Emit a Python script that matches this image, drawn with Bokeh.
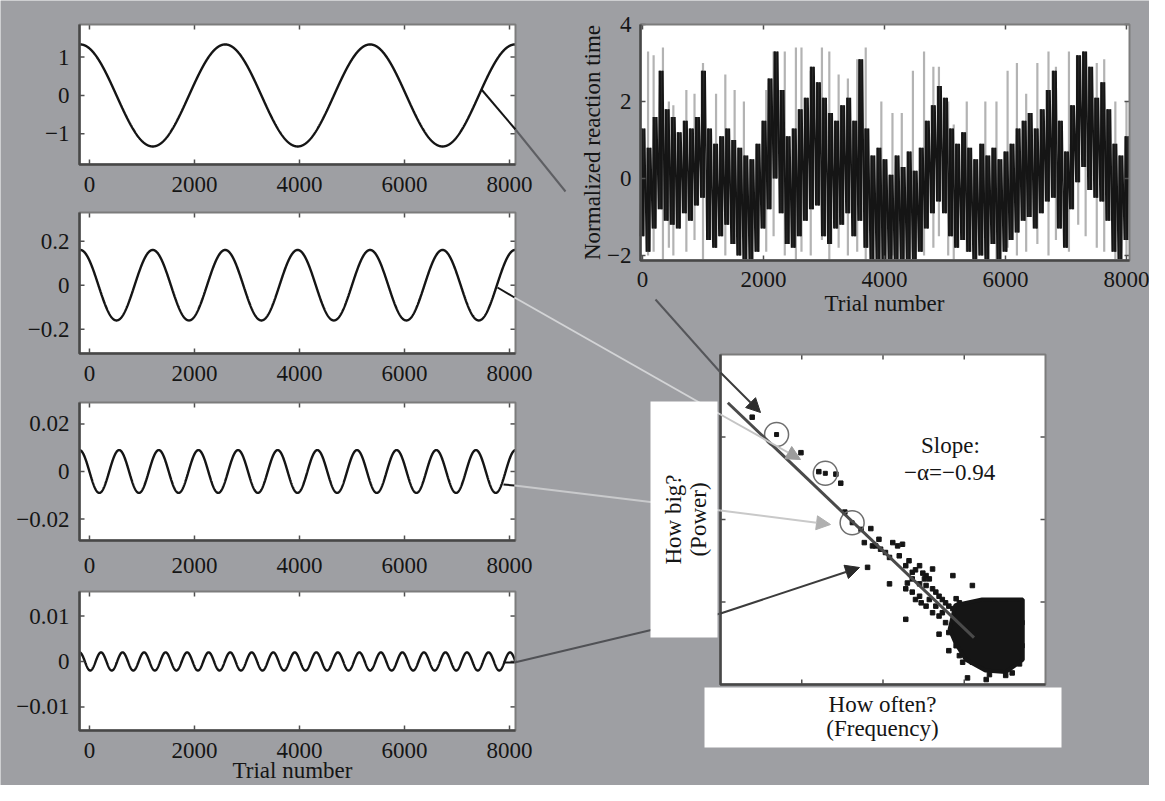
import numpy as np
from bokeh.plotting import figure
from bokeh.models import Range1d, Arrow, NormalHead
from bokeh.core.properties import value
from bokeh.embed import file_html
from bokeh.resources import INLINE

# ------------------------------------------------------------------ data
trial_ticks = [0, 2000, 4000, 6000, 8000]
trial_tick_labels = ["0", "2000", "4000", "6000", "8000"]

# the four sinusoidal components (left column)
comp_amplitude = [1.33, 0.16, 0.009, 0.002]
comp_period = [2760, 1380, 755, 410]          # trials per cycle
comp_crest_at = [-175, -175, -190, -190]      # trial of one crest
comp_ylim = [(-1.8, 1.85), (-0.31, 0.33), (-0.029, 0.029), (-0.0152, 0.0154)]
comp_yticks = [[-1, 0, 1], [-0.2, 0, 0.2], [-0.02, 0, 0.02], [-0.01, 0, 0.01]]
comp_ytick_labels = [["\u22121", "0", "1"], ["\u22120.2", "0", "0.2"],
                     ["\u22120.02", "0", "0.02"], ["\u22120.01", "0", "0.01"]]
comp_trial_lim = (-190, 8114)

# normalized reaction time: dense core per 100-trial bin + light spikes
rt_trial = list(range(0, 8001, 100))
rt_hi = [1.3, 0.8, 1.6, 2.8, 1.8, 1.6, 1.2, 1.5, 1.3, 1.6,
         2.8, 1.3, 0.9, 1.1, 1.3, 1.0, 0.8, 0.6, 0.5, 0.9,
         1.5, 2.6, 3.3, 2.3, 1.1, 1.3, 1.8, 2.1, 2.9, 2.5,
         2.1, 1.7, 1.5, 1.9, 2.1, 1.5, 3.1, 1.3, 0.6, 0.8,
         0.5, 0.1, 0.6, 0.3, 0.7, 0.2, 0.8, 1.5, 1.9, 2.4,
         2.1, 1.3, 0.9, 1.2, 0.8, 0.5, 0.9, 0.6, 0.8, 0.5,
         0.7, 0.9, 1.3, 1.5, 1.7, 1.3, 1.8, 2.3, 2.8, 1.5,
         0.7, 1.9, 3.2, 3.3, 2.9, 2.1, 2.5, 1.8, 0.9, 0.6,
         1.1]
rt_lo = [-1.5, -1.9, -1.3, -0.8, -1.1, -1.2, -1.3, -0.9, -1.1, -0.7,
         -0.5, -1.6, -1.8, -1.5, -1.2, -1.7, -2.0, -2.1, -2.1, -1.9,
         -1.3, -0.8, 0.0, -0.9, -1.7, -1.8, -1.5, -1.1, -0.8, -0.7,
         -1.5, -1.7, -1.3, -1.2, -0.9, -1.5, -1.1, -1.8, -2.1, -2.1,
         -2.1, -2.1, -2.1, -2.1, -2.1, -2.1, -1.9, -1.3, -0.9, -0.6,
         -0.9, -1.5, -1.8, -1.6, -1.9, -2.1, -2.0, -2.1, -1.7, -2.1,
         -1.9, -1.6, -1.4, -1.1, -1.0, -1.3, -0.9, -0.6, -0.5, -1.3,
         -1.8, -0.8, -0.1, 0.3, -0.3, -0.5, -0.6, -1.1, -1.9, -2.1,
         -1.6]
spike_trial = [92, 184, 338, 436, 510, 725, 860, 1000, 1216, 1369,
               1523, 1676, 2045, 2167, 2352, 2536, 2628, 2781, 2966, 3088,
               3242, 3395, 3549, 3690, 3948, 4132, 4286, 4470, 4654, 4808,
               4900, 5053, 5145, 5360, 5667, 5851, 6035, 6189, 6342, 6527,
               6711, 6834, 7049, 7202, 7325, 7509, 7632, 7816, 8000]
spike_hi = [3.3, 3.2, 3.4, 2.0, 1.9, 2.3, 2.2, 3.0, 2.2, 2.7,
            2.3, 2.0, 2.3, 3.3, 3.3, 3.4, 3.4, 2.8, 3.4, 3.3,
            2.7, 2.6, 3.1, 3.4, 2.0, 1.7, 1.7, 2.8, 3.3, 2.9,
            2.9, 2.0, 1.4, 2.0, 2.0, 2.0, 2.8, 3.0, 2.2, 3.0,
            3.3, 2.9, 3.3, 3.1, 3.0, 3.0, 3.1, 2.0, 2.0]
spike_lo = [-2.0, -1.9, -2.1, -1.8, -2.0, -1.9, -1.6, -2.1, -1.8, -2.0,
            -1.7, -2.1, -1.9, -1.5, -2.0, -2.1, -1.9, -2.0, -1.6, -2.1,
            -1.8, -2.0, -1.9, -2.1, -2.1, -2.0, -2.1, -1.9, -2.0, -1.8,
            -1.5, -2.0, -2.1, -1.9, -2.0, -2.1, -1.8, -2.0, -1.9, -1.7,
            -2.0, -1.6, -1.9, -1.2, -1.5, -1.8, -1.9, -2.1, -2.0]
rt_ylim = (-2.13, 4.0)
rt_xlim = (-33, 8050)
rt_yticks = [-2, 0, 2, 4]
rt_ytick_labels = ["\u22122", "0", "2", "4"]

# power spectrum (log10 frequency, log10 power), decades
spec_logf = [0.39, 0.99, 1.21, 1.42, 1.48, 1.53, 1.73, 1.85, 1.77, 1.81,
             1.91, 1.97, 2.03, 2.12, 2.24, 2.08, 2.20, 2.28, 2.36, 2.45,
             2.53, 2.61, 2.28, 2.36, 2.08, 2.45, 2.53, 2.65, 2.73, 2.81,
             2.28, 2.40, 2.53, 2.61, 2.69, 2.77, 2.86, 3.10, 2.94, 3.02,
             2.69, 2.81, 2.98, 3.04, 3.27, 3.51, 3.68, 3.70, 2.57, 2.47,
             2.65, 2.73, 2.90, 2.98, 2.36, 2.30, 2.45, 2.51, 1.95, 1.87,
             2.18, 2.32, 2.40, 2.49, 2.57, 2.61, 2.69, 2.77, 2.86, 2.90,
             2.98, 2.81, 2.90, 2.94, 3.10, 3.31, 3.43, 3.59, 3.71, 3.71]
spec_logp = [3.24, 2.81, 2.58, 2.55, 2.44, 2.09, 1.88, 1.89, 1.72, 1.42,
             1.68, 1.64, 1.60, 1.72, 1.70, 1.54, 1.56, 1.44, 1.36, 1.44,
             1.32, 1.40, 1.16, 1.12, 1.22, 1.07, 1.20, 1.12, 1.03, 0.95,
             0.79, 1.03, 0.95, 0.87, 0.83, 0.75, 1.32, 1.20, 0.99, 0.87,
             0.61, 0.41, 0.27, 0.08, 0.06, 0.11, 0.25, 1.01, 1.03, 0.99,
             0.95, 0.87, 0.79, 0.71, 1.28, 1.23, 1.22, 1.28, 1.76, 1.68,
             1.68, 1.50, 1.39, 1.35, 1.28, 1.16, 1.07, 0.99, 0.92, 1.04,
             0.95, 0.63, 0.47, 0.35, 0.27, 0.12, 0.18, 0.14, 0.47, 0.75]
cloud_logf = [2.89, 3.22, 3.72, 3.72, 3.51, 3.26, 3.02, 2.89, 2.82]
cloud_logp = [0.96, 1.03, 1.03, 0.30, 0.15, 0.17, 0.30, 0.51, 0.67]
circled_logf = [0.69, 1.29, 1.62]
circled_logp = [3.03, 2.56, 1.96]
fit_slope = -0.94
fit_intercept = 3.50
fit_logf = [0.09, 3.12]
spec_lim = (0, 4)
spec_ticks = [1, 2, 3]

# ------------------------------------------------------------------ style / layout
GRAY = "#9e9fa3"
INK = "#151515"
FONT = "Liberation Serif"
FS = "23px"

LEFT_BOXES = [(87, 523, 32, 172), (87, 523, 220, 361), (87, 523, 410, 548), (87, 523, 599, 738)]
LEFT_XLAB_Y = [192, 381, 573, 758]
LEFT_YLAB_X = 77
RT_BOX = (648, 1137, 32, 268)
PS_BOX = (728, 1053, 362, 692)

p = figure(width=1149, height=785, x_range=Range1d(8, 1157), y_range=Range1d(793, 8),
           output_backend="svg", toolbar_location=None, min_border=0,
           x_axis_location=None, y_axis_location=None)
p.background_fill_color = GRAY
p.border_fill_color = GRAY
p.outline_line_color = None
p.grid.grid_line_color = None
p.grid.visible = False


def sub(xlim, ylim, box):
    l, r, t, b = box
    return p.subplot(x_source=Range1d(*xlim), y_source=Range1d(*ylim),
                     x_target=Range1d(l, r), y_target=Range1d(b, t))


def xrow(xlim, box, ypage):
    l, r, t, b = box
    return p.subplot(x_source=Range1d(*xlim), y_source=Range1d(0, 1),
                     x_target=Range1d(l, r), y_target=Range1d(ypage, ypage + 1))


def ycol(ylim, box, xpage):
    l, r, t, b = box
    return p.subplot(x_source=Range1d(0, 1), y_source=Range1d(*ylim),
                     x_target=Range1d(xpage, xpage + 1), y_target=Range1d(b, t))


def put_text(api, x, y, labels, align="center", baseline="middle", angle=0.0,
             size=FS, color=INK, style="normal"):
    api.text(x=x, y=y, text=labels, angle=angle, text_font=value(FONT),
             text_font_size=value(size), text_color=color, text_align=align,
             text_baseline=baseline, text_font_style=style)


def white_box(box):
    l, r, t, b = box
    p.quad(left=[l], right=[r], top=[t], bottom=[b], fill_color="white", line_color=None)


def frame(box):
    l, r, t, b = box
    p.quad(left=[l], right=[r], top=[t], bottom=[b], fill_color=None,
           line_color="#7c7c7c", line_width=2)
    p.line(x=[l, l, r], y=[t, b, b], line_color="#474747", line_width=2.5)


def ticks(api, xlim, ylim, box, xt, yt, length=5, color="#505050"):
    l, r, t, b = box
    dx = length * (xlim[1] - xlim[0]) / (r - l)
    dy = length * (ylim[1] - ylim[0]) / (b - t)
    n, m = len(xt), len(yt)
    kw = dict(line_color=color, line_width=1.5)
    api.segment(x0=xt, y0=[ylim[0]] * n, x1=xt, y1=[ylim[0] + dy] * n, **kw)
    api.segment(x0=xt, y0=[ylim[1]] * n, x1=xt, y1=[ylim[1] - dy] * n, **kw)
    api.segment(x0=[xlim[0]] * m, y0=yt, x1=[xlim[0] + dx] * m, y1=yt, **kw)
    api.segment(x0=[xlim[1]] * m, y0=yt, x1=[xlim[1] - dx] * m, y1=yt, **kw)


# ------------------------------------------------------------------ left column
for k in range(4):
    box = LEFT_BOXES[k]
    ylim = comp_ylim[k]
    white_box(box)
    xy = sub(comp_trial_lim, ylim, box)
    t = np.linspace(comp_trial_lim[0], comp_trial_lim[1], 2400)
    y = comp_amplitude[k] * np.cos(2 * np.pi * (t - comp_crest_at[k]) / comp_period[k])
    xy.line(x=t, y=y, line_color=INK, line_width=2.4)
    ticks(xy, comp_trial_lim, ylim, box, trial_ticks, comp_yticks[k])
    frame(box)
    put_text(xrow(comp_trial_lim, box, LEFT_XLAB_Y[k]), trial_ticks, [0] * 5, trial_tick_labels)
    put_text(ycol(ylim, box, LEFT_YLAB_X), [0] * 3, comp_yticks[k], comp_ytick_labels[k], align="right")

put_text(p, [300], [778], ["Trial number"])

# ------------------------------------------------------------------ reaction time panel
white_box(RT_BOX)
rt = sub(rt_xlim, rt_ylim, RT_BOX)
rt.segment(x0=spike_trial, y0=spike_lo, x1=spike_trial, y1=spike_hi,
           line_color="#b3b3b3", line_width=2.2)
# dense trace: within each bin the series swings between its low and high
zz_x, zz_y = [], []
for xc, lo, hi in zip(rt_trial, rt_lo, rt_hi):
    zz_x += [xc - 36, xc - 12, xc + 12, xc + 36]
    zz_y += [lo, hi, lo, hi]
rt.vbar(x=rt_trial, width=70, top=rt_hi, bottom=rt_lo, fill_color="#2a2a2a", line_color=None)
rt.line(x=zz_x, y=zz_y, line_color=INK, line_width=1.6)
ticks(rt, rt_xlim, rt_ylim, RT_BOX, trial_ticks, rt_yticks)
frame(RT_BOX)
put_text(xrow(rt_xlim, RT_BOX, 287), trial_ticks, [0] * 5, trial_tick_labels)
put_text(ycol(rt_ylim, RT_BOX, 639), [0] * 4, rt_yticks, rt_ytick_labels, align="right")
put_text(p, [892], [311], ["Trial number"])
put_text(p, [600], [150], ["Normalized reaction time"], angle=np.pi / 2)

# ------------------------------------------------------------------ spectrum panel
white_box(PS_BOX)
ps = sub(spec_lim, spec_lim, PS_BOX)
ps.scatter(x=spec_logf, y=spec_logp, marker="square", size=4.5, color=INK)
ps.patch(x=cloud_logf, y=cloud_logp, fill_color=INK, line_color=INK, line_width=4)
ps.scatter(x=circled_logf, y=circled_logp, marker="square", size=4, color=INK)
ps.scatter(x=circled_logf, y=circled_logp, marker="circle", size=24,
           fill_color=None, line_color="#6e6e6e", line_width=1.5)
fit_logp = [fit_intercept + fit_slope * f for f in fit_logf]
ps.line(x=fit_logf, y=fit_logp, line_color="#4a4a4a", line_width=3)
ticks(ps, spec_lim, spec_lim, PS_BOX, spec_ticks, spec_ticks)
frame(PS_BOX)
put_text(ps, [2.83], [2.90], ["Slope:"])
put_text(ps, [2.82], [2.57], ["\u2212\u03b1=\u22120.94"])

# ------------------------------------------------------------------ connectors
p.line(x=[489, 523], y=[97, 137], line_color=INK, line_width=2)
p.line(x=[523, 573], y=[137, 199], line_color="#5e5f63", line_width=2)
p.line(x=[663, 728], y=[307, 380], line_color="#55565a", line_width=2)

p.line(x=[505, 522], y=[295, 305], line_color=INK, line_width=2)
p.line(x=[522, 728], y=[305, 422], line_color="#d3d4d6", line_width=2)

p.line(x=[511, 522], y=[492, 493], line_color=INK, line_width=2)
p.line(x=[522, 728], y=[493, 518], line_color="#c9cacc", line_width=2)

p.line(x=[511, 522], y=[670, 670], line_color=INK, line_width=2)
p.line(x=[522, 728], y=[670, 621], line_color="#505155", line_width=2)

# label boxes
white_box((658, 725, 409, 645))
white_box((712, 1069, 695, 755))
put_text(p, [681], [527], ["How big?"], angle=np.pi / 2)
put_text(p, [706], [527], ["(Power)"], angle=np.pi / 2)
put_text(p, [890], [712], ["How often?"])
put_text(p, [890], [736], ["(Frequency)"])

for (x0, y0, x1, y1, c, hc) in [(728, 380, 768, 420, "#3a3a3a", "#2e2e2e"),
                                (728, 422, 808, 467, "#c4c4c4", "#9c9c9c"),
                                (728, 518, 838, 532, "#c9c9c9", "#b0b0b0"),
                                (728, 621, 867, 575, "#3c3c3c", "#2a2a2a")]:
    p.add_layout(Arrow(end=NormalHead(size=14, fill_color=hc, line_color=hc, line_width=1),
                       x_start=x0, y_start=y0, x_end=x1, y_end=y1,
                       line_color=c, line_width=2))

open("out.html", "w").write(file_html(p, INLINE))
